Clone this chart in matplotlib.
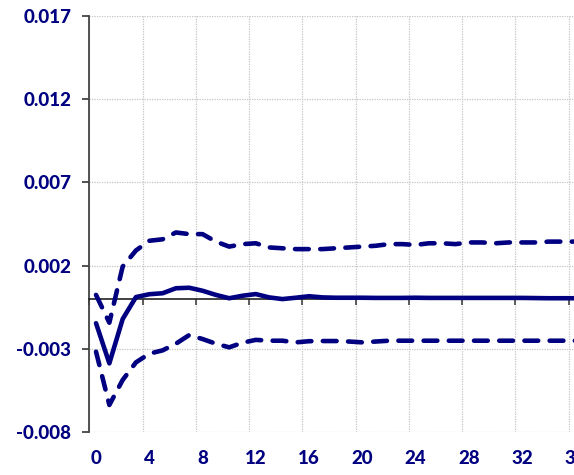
import matplotlib
matplotlib.use("Agg")
import matplotlib.pyplot as plt
import numpy as np

# impulse response and its error band, periods 0..36
periods = np.arange(37)
resp = [-0.00145, -0.00386, -0.0012, 0.00012, 0.00029, 0.00035, 0.00065, 0.00068,
        0.0005, 0.00025, 0.00005, 0.0002, 0.0003, 0.0001, 0.0, 0.00008, 0.00017,
        0.0001, 0.00008, 0.00008, 0.00008, 0.00007, 0.00007, 0.00007, 0.00008,
        0.00007, 0.00007, 0.00007, 0.00007, 0.00007, 0.00007, 0.00007, 0.00007,
        0.00006, 0.00005, 0.00005, 0.00005]
upper = [0.00025, -0.00142, 0.00195, 0.00292, 0.0035, 0.00359, 0.004, 0.0039,
         0.0039, 0.00345, 0.00315, 0.0033, 0.00335, 0.0031, 0.00305, 0.003, 0.003,
         0.003, 0.00305, 0.0031, 0.00315, 0.0032, 0.0033, 0.0033, 0.00325, 0.00335,
         0.00335, 0.0033, 0.0034, 0.0034, 0.00335, 0.0034, 0.0034, 0.0034, 0.00345,
         0.00345, 0.00345]
lower = [-0.00316, -0.00636, -0.00486, -0.0038, -0.00328, -0.00308, -0.00268,
         -0.00216, -0.0024, -0.00268, -0.0029, -0.00262, -0.00245, -0.0025, -0.0025,
         -0.0026, -0.00253, -0.00252, -0.00252, -0.00255, -0.0026, -0.00255, -0.0025,
         -0.0025, -0.0025, -0.0025, -0.0025, -0.0025, -0.0025, -0.0025, -0.0025,
         -0.0025, -0.0025, -0.0025, -0.0025, -0.0025, -0.0025]
yticks = [-0.008, -0.003, 0.002, 0.007, 0.012, 0.017]
xlabels = list(range(0, 37, 4))

NAVY = "#000080"
plt.rcParams["font.family"] = ["Lato", "DejaVu Sans"]

fig = plt.figure(figsize=(5.74, 4.75), dpi=100)
# plot area runs a little past the right edge of the figure
XMAX = 36.7
ax = fig.add_axes([0.1557, 0.0899, 0.8443 * XMAX / 36.4, 0.8765])

# categories sit in the middle of each period slot
xpos = periods + 0.5
ax.plot(xpos, resp, color=NAVY, lw=3.3, solid_capstyle="round", zorder=3)
for band in (upper, lower):
    ax.plot(xpos, band, color=NAVY, lw=3.3, dashes=(3.0, 2.5),
            dash_capstyle="round", zorder=3)

ax.set_xlim(0, XMAX)
ax.set_ylim(-0.008, 0.017)
ax.set_yticks(yticks)
ax.set_yticklabels([f"{v:.3f}" for v in yticks])
ax.set_xticks(np.arange(0, 37, 4))
ax.tick_params(axis="x", direction="out", length=4, width=1.1,
               color="#333333", labelbottom=False)
ax.tick_params(axis="y", direction="out", length=5, width=1.3, color="#444444",
               labelsize=13.5, labelcolor=NAVY, pad=8)
for lab in ax.get_yticklabels():
    lab.set_fontweight("black")

ax.grid(True, color="#c4c4c4", ls=(0, (1, 1)), lw=0.9)
ax.set_axisbelow(True)

for s in ("top", "right"):
    ax.spines[s].set_visible(False)
ax.spines["left"].set_color("#444444")
ax.spines["left"].set_linewidth(1.3)
ax.spines["bottom"].set_position(("data", 0))
ax.spines["bottom"].set_color("#222222")
ax.spines["bottom"].set_linewidth(1.2)

# period labels along the bottom edge
sec = ax.secondary_xaxis("bottom")
sec.set_xticks([k + 0.5 for k in xlabels], [str(k) for k in xlabels])
sec.spines["bottom"].set_visible(False)
sec.tick_params(length=0, pad=13, labelsize=13.5, labelcolor=NAVY)
for lab in sec.get_xticklabels():
    lab.set_fontweight("black")

fig.savefig("out.png", dpi=100)
